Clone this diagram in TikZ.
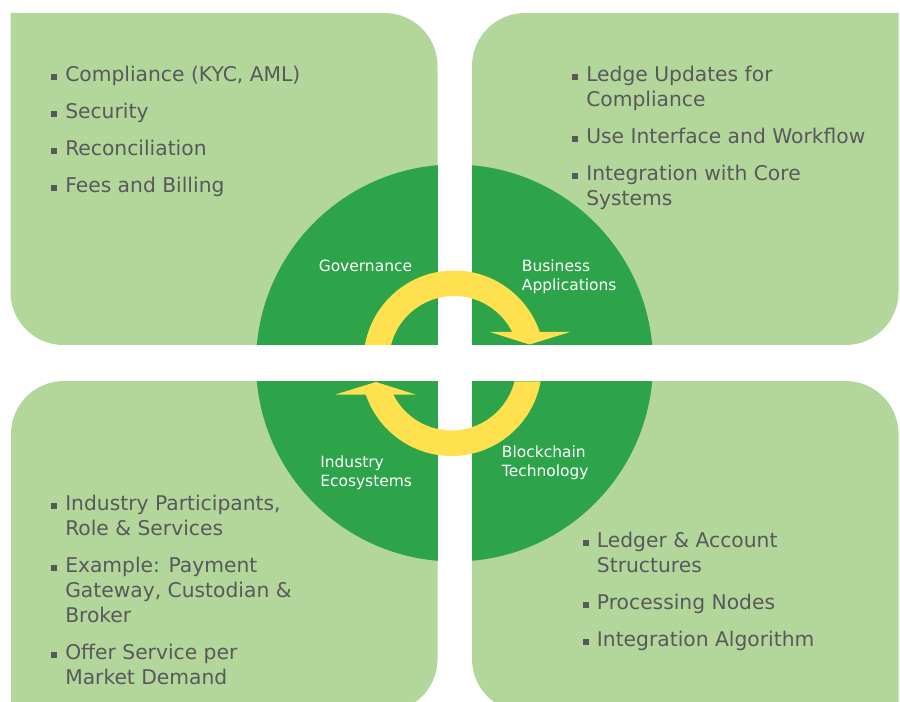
\documentclass[tikz,border=0pt]{standalone}
\usepackage{fontspec}
\setmainfont{DejaVu Sans}
\definecolor{lg}{HTML}{B3D69B}
\definecolor{dg}{HTML}{2EA44A}
\definecolor{yl}{HTML}{FFE14F}
\definecolor{tgray}{HTML}{58595B}
\newcommand\bul{\llap{\rule[1.1pt]{4.5pt}{4.5pt}\hspace{6.2pt}}}
\begin{document}
\begin{tikzpicture}[x=0.75pt,y=-0.75pt,
  item/.style={anchor=base west, inner sep=0pt, text=tgray, font=\fontsize{15.2}{18}\selectfont},
  lab/.style={anchor=base west, inner sep=0pt, text=white, font=\fontsize{11.6}{14}\selectfont},
  arrowshape/.style={fill=yl}]
\useasboundingbox (0,0) rectangle (900,702);
\clip (0,0) rectangle (900,702);
% light green panels
\fill[lg] (10.5,13) -- (384.5,13) arc[start angle=270,end angle=360,radius=53] -- (437.5,345) -- (63.5,345) arc[start angle=90,end angle=180,radius=53] -- cycle;
\fill[lg] (472,66) arc[start angle=180,end angle=270,radius=53] -- (898.5,13) -- (898.5,292) arc[start angle=0,end angle=90,radius=53] -- (472,345) -- cycle;
\fill[lg] (11,434) arc[start angle=180,end angle=270,radius=53] -- (437.5,381) -- (437.5,659) arc[start angle=0,end angle=90,radius=53] -- (11,712) -- cycle;
\fill[lg] (472,381) -- (845.5,381) arc[start angle=270,end angle=360,radius=53] -- (898.5,712) -- (525,712) arc[start angle=90,end angle=180,radius=53] -- cycle;
% dark green disc
\fill[dg] (454.5,363) circle[radius=198.5];
% white gaps
\fill[white] (437.5,0) rectangle (472,702);
\fill[white] (0,345) rectangle (900,381);
% yellow cycle arrows
\fill[arrowshape] (364.92,345) arc[start angle=190.18,end angle=341.31,radius=90.5] -- (570,332) -- (529.5,344.5) -- (490,332) -- (512.17,332) arc[start angle=333.5,end angle=194.25,radius=65] -- cycle;
\begin{scope}[rotate around={180:(452.75,363.25)}]
\fill[arrowshape] (364.92,345) arc[start angle=190.18,end angle=341.31,radius=90.5] -- (570,332) -- (529.5,344.5) -- (490,332) -- (512.17,332) arc[start angle=333.5,end angle=194.25,radius=65] -- cycle;
\end{scope}
% disc labels
\node[lab] (gov) at (318.5,271.7) {Governance};
\node[lab] (bus1) at (521.7,271.7) {Business};
\node[lab] (bus2) at (521.7,291) {Applications};
\node[lab] (ind1) at (320,467.3) {Industry};
\node[lab] (ind2) at (320,486.7) {Ecosystems};
\node[lab] (blk1) at (501.7,457.7) {Blockchain};
\node[lab] (blk2) at (501.7,476.7) {Technology};
% top-left list
\node[item] (tl1) at (65,81.5) {\bul Compliance (KYC, AML)};
\node[item] (tl2) at (65,118.5) {\bul Security};
\node[item] (tl3) at (65,155.5) {\bul Reconciliation};
\node[item] (tl4) at (65,192.5) {\bul Fees and Billing};
% top-right list
\node[item] (tr1) at (586,81.5) {\bul Ledge Updates for};
\node[item] (tr1b) at (586,106.5) {Compliance};
\node[item] (tr2) at (586,143.5) {\bul Use Interface and Workflow};
\node[item] (tr3) at (586,180.5) {\bul Integration with Core};
\node[item] (tr3b) at (586,205.5) {Systems};
% bottom-left list
\node[item] (bl1) at (65,510) {\bul Industry Participants,};
\node[item] (bl1b) at (65,535) {Role \& Services};
\node[item] (bl2) at (65,572) {\bul Example: Payment};
\node[item] (bl2b) at (65,597) {Gateway, Custodian \&};
\node[item] (bl2c) at (65,622) {Broker};
\node[item] (bl3) at (65,659) {\bul Offer Service per};
\node[item] (bl3b) at (65,684) {Market Demand};
% bottom-right list
\node[item] (br1) at (596.7,547.5) {\bul Ledger \& Account};
\node[item] (br1b) at (596.7,572.5) {Structures};
\node[item] (br2) at (596.7,609.5) {\bul Processing Nodes};
\node[item] (br3) at (596.7,646.5) {\bul Integration Algorithm};
\end{tikzpicture}
\end{document}
